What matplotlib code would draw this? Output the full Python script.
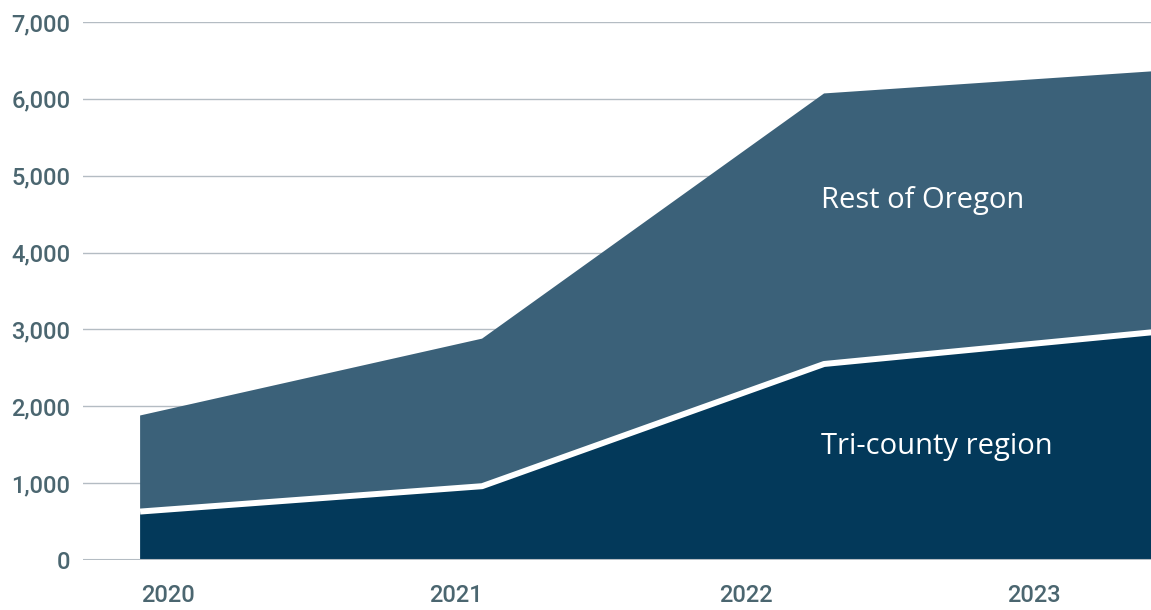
import matplotlib.pyplot as plt

years = ["2020", "2021", "2022", "2023"]
tri_county = [630, 960, 2550, 2980]
rest_of_oregon = [1250, 1920, 3520, 3390]
y_ticks = [0, 1000, 2000, 3000, 4000, 5000, 6000, 7000]

dark = "#03395a"
light = "#3b6179"
text_col = "#4b6670"
grid_col = "#b4bcc3"

fig = plt.figure(figsize=(11.51, 6.10), dpi=100)
ax = fig.add_axes([0.0721, 0.082, 0.9279, 0.882])

x = list(range(len(years)))
ax.stackplot(x, tri_county, rest_of_oregon, colors=[dark, light], zorder=2)
# white separator between the two layers
ax.plot(x, tri_county, color="white", lw=4.3, zorder=3, solid_capstyle="butt")
ax.axhline(0, color=grid_col, lw=1.5, zorder=3)

ax.set_xlim(-0.167, 2.956)
ax.set_ylim(0, 7000)

ax.set_yticks(y_ticks)
ax.set_yticklabels([f"{v:,}" for v in y_ticks])
# year labels sit a bit off the data points, as in the original
label_pos = [0.082, 0.924, 1.773, 2.615]
ax.set_xticks(label_pos)
ax.set_xticklabels(years)

ax.grid(axis="y", color=grid_col, lw=1, zorder=1)
ax.set_axisbelow(True)
for s in ax.spines.values():
    s.set_visible(False)

ax.tick_params(axis="both", length=0, colors=text_col, labelsize=17)
ax.tick_params(axis="y", pad=9)
ax.tick_params(axis="x", pad=17)
for lab in ax.get_xticklabels() + ax.get_yticklabels():
    lab.set_fontfamily("Roboto")
    lab.set_fontweight("medium")

ax.text(1.99, 4680, "Rest of Oregon", color="white", fontsize=21,
        family="Open Sans", va="center", ha="left", zorder=4)
ax.text(1.99, 1470, "Tri-county region", color="white", fontsize=21,
        family="Open Sans", va="center", ha="left", zorder=4)

fig.savefig("out.png", dpi=100)
